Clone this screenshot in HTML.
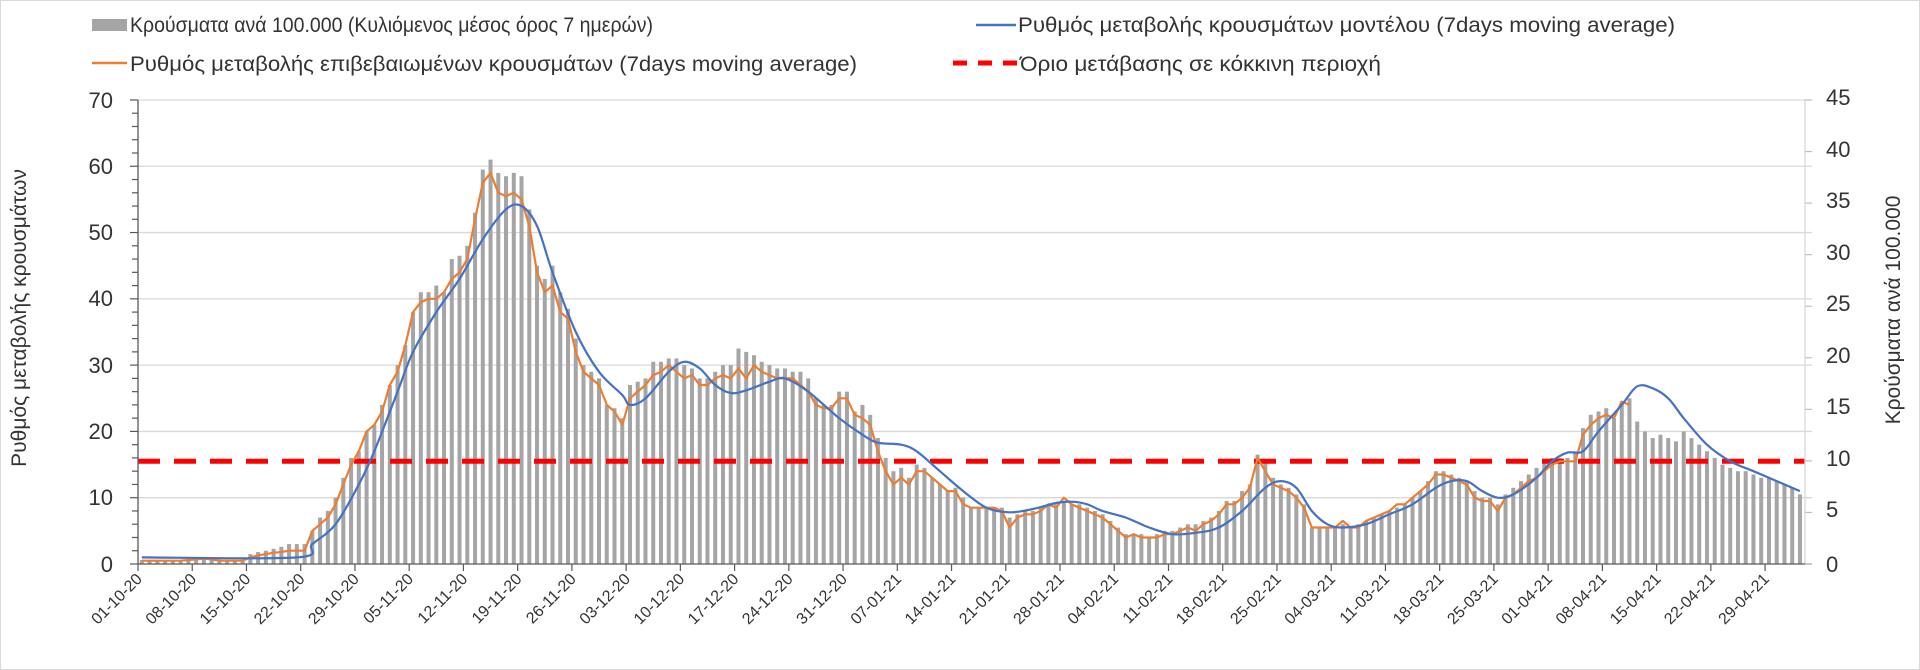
<!DOCTYPE html>
<html><head><meta charset="utf-8"><style>
html,body{margin:0;padding:0;background:#fff;}
svg{display:block;}
text{font-family:"Liberation Sans",sans-serif;fill:#333;}
</style></head><body>
<svg id="s" width="1920" height="670" viewBox="0 0 1920 670" xmlns="http://www.w3.org/2000/svg">
<rect x="0.5" y="0.5" width="1919" height="669" fill="#fff" stroke="#d9d9d9"/>
<g id="grid"></g>
<g id="bars"></g>
<line x1="138" y1="461.3" x2="1805" y2="461.3" stroke="#ff0000" stroke-width="5" stroke-dasharray="22,14"/>
<path id="orange" fill="none" stroke="#ed7d31" stroke-width="2.2" stroke-linejoin="round"/>
<path id="blue" fill="none" stroke="#4472c4" stroke-width="2.2"/>
<g id="axes"></g>
<g font-size="22" text-anchor="end">
<text x="113" y="108">70</text><text x="113" y="174">60</text><text x="113" y="240">50</text><text x="113" y="306">40</text><text x="113" y="373">30</text><text x="113" y="439">20</text><text x="113" y="505">10</text><text x="113" y="572">0</text>
</g>
<g font-size="22" text-anchor="start">
<text x="1826" y="105">45</text><text x="1826" y="157">40</text><text x="1826" y="208">35</text><text x="1826" y="260">30</text><text x="1826" y="311">25</text><text x="1826" y="363">20</text><text x="1826" y="414">15</text><text x="1826" y="466">10</text><text x="1826" y="517">5</text><text x="1826" y="572">0</text>
</g>
<text font-size="21" text-anchor="middle" transform="translate(26,318) rotate(-90)">Ρυθμός μεταβολής κρουσμάτων</text>
<text font-size="21" text-anchor="middle" transform="translate(1900,310) rotate(-90)">Κρούσματα ανά 100.000</text>
<g id="dates" font-size="16" text-anchor="end"></g>
<!-- legend -->
<rect x="92" y="19" width="35" height="12" fill="#a5a5a5"/>
<text x="130" y="32" font-size="21" textLength="523" lengthAdjust="spacingAndGlyphs">Κρούσματα ανά 100.000 (Κυλιόμενος μέσος όρος 7 ημερών)</text>
<line x1="92" y1="63" x2="127" y2="63" stroke="#ed7d31" stroke-width="2.5"/>
<text x="130" y="71" font-size="21" textLength="727" lengthAdjust="spacingAndGlyphs">Ρυθμός μεταβολής επιβεβαιωμένων κρουσμάτων (7days moving average)</text>
<line x1="976" y1="25" x2="1016" y2="25" stroke="#4472c4" stroke-width="2.5"/>
<text x="1018" y="32" font-size="21" textLength="657" lengthAdjust="spacingAndGlyphs">Ρυθμός μεταβολής κρουσμάτων μοντέλου (7days moving average)</text>
<line x1="953" y1="63" x2="1018" y2="63" stroke="#ff0000" stroke-width="5" stroke-dasharray="14,11"/>
<text x="1020" y="71" font-size="21" textLength="361" lengthAdjust="spacingAndGlyphs">Όριο μετάβασης σε κόκκινη περιοχή</text>
</svg>
<script>
var X0=138,PD=7.748,Y0=564,PU=6.629;
function x(d){return X0+PD*(d+0.5);}
function y(v){return Y0-PU*v;}
var NS="http://www.w3.org/2000/svg";
function el(p,t,a){var e=document.createElementNS(NS,t);for(var k in a)e.setAttribute(k,a[k]);p.appendChild(e);return e;}
var g=document.getElementById('grid');
for(var v=10;v<=70;v+=10)el(g,'line',{x1:138,x2:1812,y1:y(v),y2:y(v),stroke:'#d9d9d9','stroke-width':1.3});
var ax=document.getElementById('axes');
el(ax,'line',{x1:138,x2:138,y1:100,y2:564,stroke:'#595959','stroke-width':1.3});
el(ax,'line',{x1:1805,x2:1805,y1:100,y2:564,stroke:'#d9d9d9','stroke-width':1.3});
el(ax,'line',{x1:138,x2:1812,y1:564,y2:564,stroke:'#595959','stroke-width':1.3});
for(var v=0;v<=70;v+=2){var m=(v%10==0);el(ax,'line',{x1:m?130:132,x2:138,y1:y(v),y2:y(v),stroke:'#595959','stroke-width':1.2});}
for(var v=0;v<=45;v+=5){var yy=564-v*464/45;el(ax,'line',{x1:1805,x2:1812,y1:yy,y2:yy,stroke:'#bfbfbf','stroke-width':1.2});}
var labs=["01-10-20","08-10-20","15-10-20","22-10-20","29-10-20","05-11-20","12-11-20","19-11-20","26-11-20","03-12-20","10-12-20","17-12-20","24-12-20","31-12-20","07-01-21","14-01-21","21-01-21","28-01-21","04-02-21","11-02-21","18-02-21","25-02-21","04-03-21","11-03-21","18-03-21","25-03-21","01-04-21","08-04-21","15-04-21","22-04-21","29-04-21"];
var dg=document.getElementById('dates');
labs.forEach(function(l,i){var tx=X0+PD*7*i;el(ax,'line',{x1:tx,x2:tx,y1:564,y2:571,stroke:'#595959','stroke-width':1.2});
var t=el(dg,'text',{transform:'translate('+(tx+5)+',580) rotate(-45)'});t.textContent=l;});
var B=[0.6,0.6,0.6,0.6,0.6,0.6,0.7,0.8,0.9,0.8,0.7,0.6,0.6,0.6,1.5,1.8,2,2.3,2.6,3,3,3,5,7,8,10,13,16,17,20,21,24,27,30,33,38,41,41,42,41,46,46.5,48,53,59.5,61,59,58.5,59,58.5,53.5,45,43,45,41,38.5,34,30,29,28,24,23.5,22,27,27.5,28,30.5,30.5,31,31,30,29.5,28,28,29,30,30,32.5,32,31.5,30.5,30,29.5,29.5,29,29,28,25,24,24,26,26,23,24,22.5,19,16,14,14.5,13,15,14.5,13,12,11,11.5,10,8.5,8.5,8.5,8.5,8.5,7,7.5,8,8,8.5,9,9,9.5,9,9,8.5,8,7.5,6.5,5.5,4.5,4.5,4.5,4,4.5,5,5,5.5,6,6,6.5,7,8,9.5,9.5,11,12,16.5,15.5,13,12,11.5,10.5,9,5.5,5.5,5.5,5.5,6,5.5,6,6.5,7,7.5,8,8.5,9,10,11,12.5,14,14,13.5,13,12.5,11,10,10,9,10.5,11.5,12.5,13.5,14.5,15.5,16,16,16,17,20.5,22.5,23,23.5,22,24.5,25,21.5,20,19,19.5,19,18.5,20,19,18,17,16,15,14.5,14,14,13.5,13,13,12.5,12,11.5,10.5];
var bg=document.getElementById('bars');
B.forEach(function(v,d){el(bg,'rect',{x:x(d)-2,y:y(v),width:4,height:Y0-y(v),fill:'#a5a5a5'});});
var O=[0.5,0.5,0.5,0.5,0.5,0.5,0.6,0.7,0.8,0.7,0.5,0.5,0.5,0.5,1,1.3,1.5,1.7,1.8,2,2,2,5,6,7,9,12,15,17,20,21,23,27,29,33,38,39.5,40,40,41,43,44,46,52,57.5,59,56,55.5,56,55,51,44,41,42,38,37,32,29,28,27,24,23,21,25,26,27,28.5,29,30,29,28,28.5,27,27,28,28.5,28,29.5,28,30,29,28.5,28,28,28,27,26,24,23.5,23.5,25,25,22.5,22,21,17,14,12,13,12,14,14,13,12,11,11,9,8.5,8.5,8.5,8.5,8,5.5,7,7.5,7.5,8,9,8.5,10,9,8.5,8,7.5,7,6,5,4,4.5,4,4,4,4.5,4.5,5,5.5,5,6,6.5,7.5,9,9,10,11.5,16,14,12,11.5,11,10,8.5,5.5,5.5,5.5,5.5,6.5,5.5,5.5,6.5,7,7.5,8,9,9,10,11,12,13.5,13.5,13,12.5,12,10,9.5,9.5,8,10,10.5,11.5,12.5,13,14,15,15.5,15.5,15.5,19.5,21,22,22.5,22,24.5,24];
document.getElementById('orange').setAttribute('d',O.map(function(v,d){return (d?'L':'M')+x(d).toFixed(1)+','+y(v).toFixed(1);}).join(''));
var C=[[0,1],[20,1],[22,3],[25,6],[28,12],[30,17],[33,26],[35,32],[38,38],[41,43],[44,49],[47,53.5],[49,54],[51,51],[53,44],[56,35],[59,29],[62,25.5],[63,24],[65,25],[68,29],[70,30.5],[72,29.5],[74,27],[76,25.8],[78,26.2],[81,27.5],[83,28],[86,26],[90,22],[93,19.5],[95,18.3],[98,18],[100,17],[103,14],[106,11],[109,8.5],[112,7.8],[115,8.3],[118,9.2],[120,9.4],[122,9],[124,8],[127,7],[130,5.5],[133,4.5],[136,4.7],[139,5.5],[142,8],[145,11.5],[147,12.5],[149,11.5],[151,8],[153,6],[155,5.5],[158,6],[161,7.5],[164,9],[167,11.5],[169,12.5],[171,12.5],[173,11],[175,10],[177,10.5],[180,13],[182,15.5],[184,16.8],[186,17],[188,20],[191,24],[193,26.8],[195,26.5],[197,25],[199,22],[202,18],[205,15.5],[208,14],[211,12.5],[214,11]];
var P=C.map(function(c){return [x(c[0]),y(c[1])];});
var d='M'+P[0][0]+','+P[0][1];
for(var i=0;i<P.length-1;i++){var p0=P[Math.max(0,i-1)],p1=P[i],p2=P[i+1],p3=P[Math.min(P.length-1,i+2)];
d+='C'+(p1[0]+(p2[0]-p0[0])/6).toFixed(1)+','+(p1[1]+(p2[1]-p0[1])/6).toFixed(1)+' '+(p2[0]-(p3[0]-p1[0])/6).toFixed(1)+','+(p2[1]-(p3[1]-p1[1])/6).toFixed(1)+' '+p2[0].toFixed(1)+','+p2[1].toFixed(1);}
document.getElementById('blue').setAttribute('d',d);
</script>
</body></html>
